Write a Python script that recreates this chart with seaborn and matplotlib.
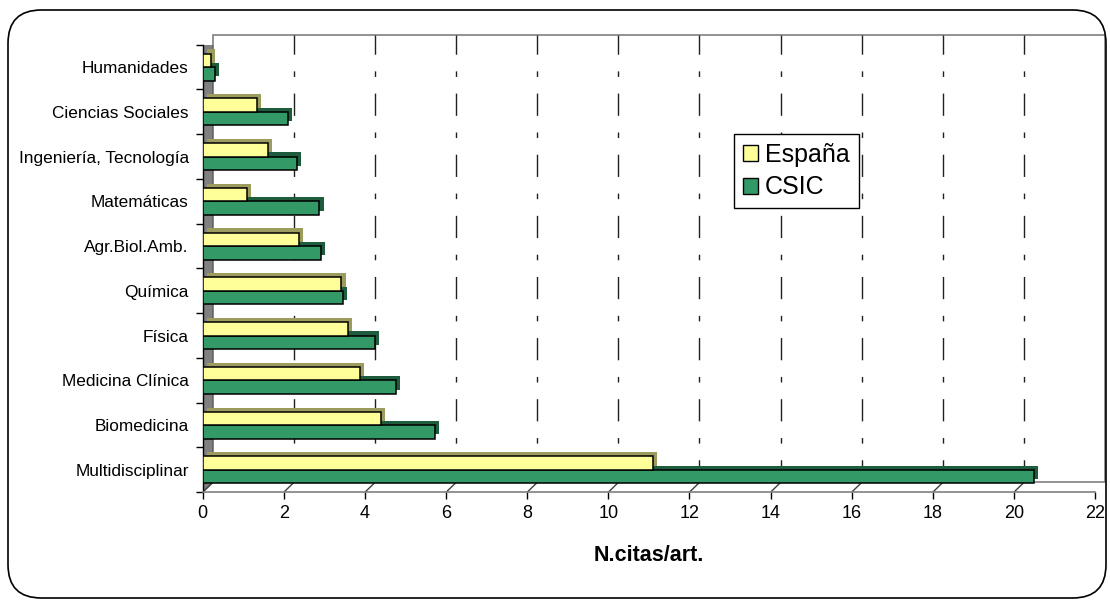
import numpy as np
import pandas as pd
import matplotlib.pyplot as plt
import matplotlib.patheffects as pe
import matplotlib.transforms as mtransforms
from matplotlib.patches import Patch, Rectangle, Polygon, FancyBboxPatch
import seaborn as sns

# datos
areas = ['Humanidades', 'Ciencias Sociales', 'Ingeniería, Tecnología', 'Matemáticas',
         'Agr.Biol.Amb.', 'Química', 'Física', 'Medicina Clínica', 'Biomedicina',
         'Multidisciplinar']
espana = [0.21, 1.33, 1.60, 1.10, 2.37, 3.42, 3.58, 3.88, 4.39, 11.1]
csic = [0.30, 2.10, 2.32, 2.88, 2.91, 3.46, 4.25, 4.76, 5.73, 20.5]
series = ['España', 'CSIC']
xticks = list(range(0, 23, 2))

df = pd.DataFrame({'area': areas * 2,
                   'serie': ['España'] * len(areas) + ['CSIC'] * len(areas),
                   'valor': espana + csic})

colors = {'España': '#FFFF99', 'CSIC': '#339966'}
sides = {'España': '#9C9C5E', 'CSIC': '#1E5C3D'}

sns.set_style('white')
plt.rcParams['font.family'] = ['Liberation Sans', 'DejaVu Sans']
plt.rcParams.update({'text.color': 'black', 'axes.labelcolor': 'black',
                     'xtick.color': 'black', 'ytick.color': 'black'})

fig = plt.figure(figsize=(11.1, 6.01), dpi=100)
ax = fig.add_axes([0.1826, 0.181, 0.8039, 0.7446])

sns.barplot(data=df, y='area', x='valor', hue='serie', order=areas, hue_order=series,
            palette=colors, saturation=1, orient='h', width=0.6, edgecolor='black',
            linewidth=1.1, legend=False, ax=ax)

# efecto 3D: sombra desplazada como cara lateral
for cont, s, z in zip(ax.containers, series, [4, 3]):
    for bar in cont:
        bar.set_zorder(z)
        bar.set_path_effects([pe.SimplePatchShadow(offset=(3, 3), shadow_rgbFace=sides[s], alpha=1),
                              pe.Normal()])

ax.set_xlim(0, 22)
ax.set_ylim(len(areas) - 0.5, -0.5)
ax.set_xticks(xticks)
ax.set_xticklabels([str(t) for t in xticks], fontsize=13)
ax.set_yticks(range(len(areas)))
ax.set_yticklabels(areas, fontsize=12.4)
ax.set_yticks(np.arange(-0.5, len(areas)), minor=True)
ax.tick_params(axis='y', which='major', length=0, pad=10)
ax.tick_params(axis='y', which='minor', length=5, width=1, color='black', left=True)
ax.tick_params(axis='x', length=5, width=1, color='black', bottom=True, pad=4)
ax.set_ylabel('')
ax.set_xlabel('N.citas/art.', fontsize=15.5, fontweight='bold', labelpad=17)

for sp in ['top', 'right']:
    ax.spines[sp].set_visible(False)
ax.spines['left'].set_color('black')
ax.spines['left'].set_linewidth(1)
ax.spines['bottom'].set_color('#808080')
ax.spines['bottom'].set_linewidth(1.2)

# pared del fondo desplazada
dx, dy = 7.2, 7.0
back = mtransforms.offset_copy(ax.transAxes, fig=fig, x=dx, y=dy, units='points')
back_data = mtransforms.offset_copy(ax.transData, fig=fig, x=dx, y=dy, units='points')
ax.add_patch(Rectangle((0, 0), 1, 1, transform=back, fill=False, edgecolor='#808080',
                       linewidth=1.2, clip_on=False, zorder=0))
# pared izquierda gris
left_edge = np.array([[0, 0], [0, 1]])
p_front = ax.transAxes.transform(left_edge)
p_back = back.transform(left_edge)
ax.add_artist(Polygon(np.vstack([p_front, p_back[::-1]]), closed=True, transform=None,
                      facecolor='#808080', edgecolor='#606060', linewidth=0.8, zorder=1))
# lineas del piso
for t in xticks:
    f = ax.transData.transform((t, len(areas) - 0.5))
    b = back_data.transform((t, len(areas) - 0.5))
    ax.add_artist(plt.Line2D([f[0], b[0]], [f[1], b[1]], transform=None,
                             color='#404040', linewidth=1, zorder=1))
# rejilla discontinua en la pared del fondo
for t in xticks[1:-1]:
    ax.add_line(plt.Line2D([t, t], [len(areas) - 0.5, -0.5], transform=back_data,
                           color='#202020', linewidth=1, dashes=(16, 12, 4, 12), zorder=0.5,
                           clip_on=False))

ax.legend(handles=[Patch(facecolor=colors[s], edgecolor='black', label=s) for s in series],
          loc='upper left', bbox_to_anchor=(734 / 1110, 1 - 134 / 601),
          bbox_transform=fig.transFigure, fontsize=18, frameon=True, fancybox=False,
          edgecolor='black', handlelength=0.6, handleheight=0.6, handletextpad=0.3,
          borderpad=0.35, labelspacing=0.35, borderaxespad=0, framealpha=1)

fig.patches.append(FancyBboxPatch((8 / 1110, 3 / 601), 1098 / 1110, 588 / 601,
                                  boxstyle='round,pad=0,rounding_size=0.03',
                                  transform=fig.transFigure, facecolor='none',
                                  edgecolor='black', linewidth=1.2, mutation_aspect=1.85))

fig.savefig('out.png', dpi=100)
